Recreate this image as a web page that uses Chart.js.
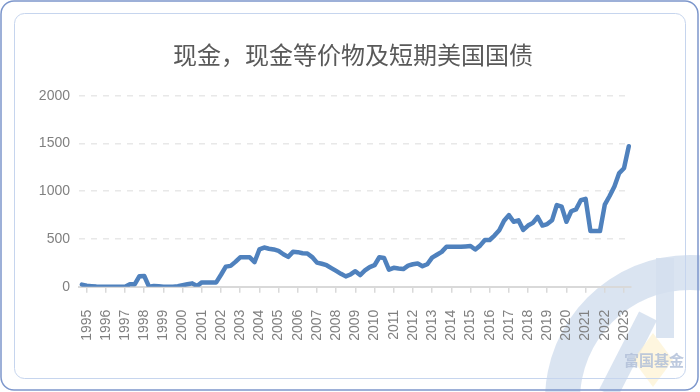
<!DOCTYPE html>
<html>
<head>
<meta charset="utf-8">
<script src="https://cdn.jsdelivr.net/npm/chart.js@4"></script>
<style>
  html, body { margin: 0; padding: 0; background: #fff; }
  #wrap { width: 700px; height: 392px; position: relative; }
</style>
</head>
<body>
<div id="wrap"><canvas id="chart" width="700" height="392"></canvas></div>
<script>
// 现金，现金等价物及短期美国国债（季度数据）
const chartTitle = '现金，现金等价物及短期美国国债';
const yearTicks = [1995, 1996, 1997, 1998, 1999, 2000, 2001, 2002, 2003, 2004, 2005, 2006, 2007, 2008,
                   2009, 2010, 2011, 2012, 2013, 2014, 2015, 2016, 2017, 2018, 2019, 2020, 2021, 2022, 2023];
const yTicks = [0, 500, 1000, 1500, 2000];
const firstQuarter = 1994.75; // 第一个数据点
const cash = [
    22, 10, 6, 1, 0, 0, 0, 0, 0, 0,
    25, 25, 110, 112, 0, 8, 5, 0, 0, 0,
    5, 15, 25, 35, 7, 45, 45, 45, 45, 125,
    210, 218, 260, 308, 308, 308, 258, 390, 410, 398,
    390, 375, 340, 312, 365, 362, 350, 348, 310, 252,
    240, 225, 195, 165, 135, 108, 128, 162, 122, 170,
    205, 225, 308, 300, 178, 198, 190, 185, 220, 235,
    243, 215, 235, 305, 335, 365, 419, 419, 419, 419,
    422, 426, 390, 430, 489, 489, 535, 590, 690, 750,
    680, 695, 595, 640, 668, 730, 640, 656, 695, 855,
    838, 680, 790, 810, 905, 920, 583, 583, 583, 860,
    950, 1050, 1190, 1240, 1470
];

const points = cash.map((v, i) => ({ x: firstQuarter + i * 0.25, y: v }));

function roundRect(ctx, x, y, w, h, r) {
    ctx.beginPath();
    ctx.moveTo(x + r, y);
    ctx.lineTo(x + w - r, y);
    ctx.arcTo(x + w, y, x + w, y + r, r);
    ctx.lineTo(x + w, y + h - r);
    ctx.arcTo(x + w, y + h, x + w - r, y + h, r);
    ctx.lineTo(x + r, y + h);
    ctx.arcTo(x, y + h, x, y + h - r, r);
    ctx.lineTo(x, y + r);
    ctx.arcTo(x, y, x + r, y, r);
    ctx.closePath();
}

// 卡片边框、标题和水印
const backdrop = {
    id: 'backdrop',
    beforeDraw(chart) {
        const ctx = chart.ctx;
        ctx.save();
        ctx.fillStyle = '#fff';
        ctx.fillRect(0, 0, 700, 392);

        // 水印
        ctx.fillStyle = 'rgba(212, 223, 239, 0.85)';
        ctx.beginPath();
        ctx.arc(690, 400, 145, 0, Math.PI * 2);
        ctx.arc(690, 400, 110, 0, Math.PI * 2, true);
        ctx.fill();
        ctx.fillRect(656, 258, 18, 80);
        ctx.strokeStyle = 'rgba(212, 223, 239, 0.85)';
        ctx.lineWidth = 20;
        ctx.beginPath();
        ctx.moveTo(648, 316);
        ctx.lineTo(608, 394);
        ctx.stroke();
        ctx.fillStyle = 'rgba(253, 242, 210, 0.7)';
        ctx.beginPath();
        ctx.moveTo(653, 333);
        ctx.lineTo(673, 360);
        ctx.lineTo(653, 387);
        ctx.lineTo(633, 360);
        ctx.closePath();
        ctx.fill();
        ctx.fillStyle = 'rgba(178, 192, 216, 0.85)';
        ctx.font = 'bold 15px "Noto Sans CJK SC"';
        ctx.textAlign = 'center';
        ctx.textBaseline = 'middle';
        ctx.fillText('富国基金', 654, 360);

        // 边框
        ctx.lineWidth = 1.5;
        ctx.strokeStyle = '#7d97cc';
        roundRect(ctx, 1, 1, 697, 389, 13);
        ctx.stroke();
        ctx.lineWidth = 1;
        ctx.strokeStyle = '#c6d5ee';
        roundRect(ctx, 14.5, 13.5, 671, 365, 10);
        ctx.stroke();

        // 标题
        ctx.fillStyle = '#595959';
        ctx.font = '24px "Noto Sans CJK SC"';
        ctx.textAlign = 'center';
        ctx.textBaseline = 'middle';
        ctx.fillText(chartTitle, 353, 55);
        ctx.restore();
    }
};

new Chart(document.getElementById('chart').getContext('2d'), {
    type: 'line',
    data: {
        datasets: [{
            data: points,
            borderColor: '#4f81bd',
            borderWidth: 4.5,
            pointRadius: 0,
            tension: 0,
            borderJoinStyle: 'round',
            borderCapStyle: 'round',
            fill: false
        }]
    },
    options: {
        responsive: false,
        animation: false,
        layout: { padding: { top: 95.7, right: 69, left: 0, bottom: 0 } },
        plugins: {
            legend: { display: false },
            tooltip: { enabled: false }
        },
        scales: {
            x: {
                type: 'linear',
                min: 1994.6,
                max: 2023.365,
                afterBuildTicks: s => { s.ticks = yearTicks.map(y => ({ value: y })); },
                afterFit: s => { s.height = 392 - 286.7; },
                ticks: {
                    autoSkip: false,
                    minRotation: 90,
                    maxRotation: 90,
                    padding: 17,
                    color: '#808080',
                    font: { family: '"Liberation Sans", Arial, sans-serif', size: 14 },
                    callback: v => String(v)
                },
                grid: {
                    drawOnChartArea: false,
                    tickLength: 6,
                    color: '#d9d9d9',
                    lineWidth: 1.5
                },
                border: { display: true, color: '#d9d9d9', width: 2 }
            },
            y: {
                min: 0,
                max: 2000,
                afterBuildTicks: s => { s.ticks = yTicks.map(v => ({ value: v })); },
                afterFit: s => { s.width = 79; },
                ticks: {
                    padding: 9,
                    color: '#808080',
                    font: { family: '"Liberation Sans", Arial, sans-serif', size: 14 },
                    callback: v => String(v)
                },
                grid: {
                    drawTicks: false,
                    color: ctx => ctx.tick && ctx.tick.value === 0 ? 'rgba(0,0,0,0)' : '#e8e8e8',
                    lineWidth: 1.5
                },
                border: { display: false, dash: [6, 6] }
            }
        }
    },
    plugins: [backdrop]
});
</script>
</body>
</html>
